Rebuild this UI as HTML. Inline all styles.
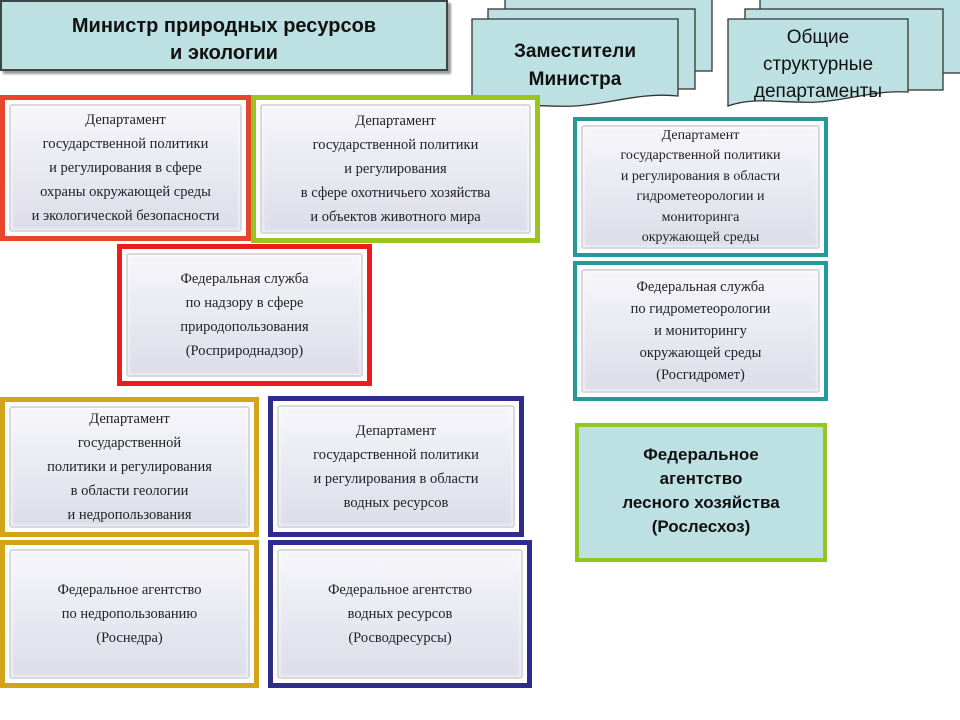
<!DOCTYPE html>
<html><head><meta charset="utf-8"><style>
body{margin:0;width:960px;height:720px;background:#fff;position:relative;overflow:hidden;font-family:"Liberation Serif",serif}
.b{position:absolute;box-sizing:border-box;background:#fff}
.b .in{position:absolute;left:4px;top:4px;right:4px;bottom:4px;border:2px solid #d8d8df;border-radius:3px;background:linear-gradient(180deg,#f6f6fa 0%,#e6e7f0 60%,#dcdde8 100%);display:flex;align-items:center;justify-content:center;text-align:center;font-size:14.5px;line-height:24px;color:#222;box-shadow:inset 0 0 4px #fff}
.s{font-family:"Liberation Sans",sans-serif;position:absolute;text-align:center;color:#111}
</style></head><body>
<div style="position:absolute;left:0;top:0;width:448px;height:71px;box-sizing:border-box;background:#bde0e3;border:2px solid #3b4747;box-shadow:3px 3px 2px #999"></div>
<div class="s" style="left:0;top:13px;width:448px;font-size:20px;font-weight:bold;line-height:27px">Министр природных ресурсов<br>и экологии</div>

<svg style="position:absolute;left:0;top:0" width="960" height="120">
<g fill="#bde0e3" stroke="#333" stroke-width="1.3">
<rect x="505" y="-2" width="207" height="73"/>
<rect x="488" y="9" width="207" height="80"/>
<path d="M472 19 H678 V96 C640 92 610 104 575 106 C540 108 505 100 472 110 Z"/>
<rect x="760" y="-2" width="202" height="75"/>
<rect x="745" y="9" width="198" height="81"/>
<path d="M728 19 H908 V92 C875 90 850 100 818 102 C785 104 755 96 728 106 Z"/>
</g>
</svg>
<div class="s" style="left:472px;top:38px;width:206px;font-size:19px;font-weight:bold;line-height:28px">Заместители<br>Министра</div>
<div class="s" style="left:728px;top:24px;width:180px;font-size:19px;line-height:27px">Общие<br>структурные<br>департаменты</div>

<div class="b" style="left:0;top:95px;width:251px;height:146px;border:5px solid #e8452f"><div class="in">Департамент<br>государственной политики<br>и регулирования в сфере<br>охраны окружающей среды<br>и экологической безопасности</div></div>
<div class="b" style="left:251px;top:95px;width:289px;height:148px;border:5px solid #9ac41e"><div class="in">Департамент<br>государственной политики<br>и регулирования<br>в сфере охотничьего хозяйства<br>и объектов животного мира</div></div>
<div class="b" style="left:117px;top:244px;width:255px;height:142px;border:5px solid #ee1c1c"><div class="in">Федеральная служба<br>по надзору в сфере<br>природопользования<br>(Росприроднадзор)</div></div>
<div class="b" style="left:573px;top:117px;width:255px;height:140px;border:4px solid #24999a"><div class="in" style="line-height:20.5px;font-size:14px">Департамент<br>государственной политики<br>и регулирования в области<br>гидрометеорологии и<br>мониторинга<br>окружающей среды</div></div>
<div class="b" style="left:573px;top:261px;width:255px;height:140px;border:4px solid #24999a"><div class="in" style="line-height:22px">Федеральная служба<br>по гидрометеорологии<br>и мониторингу<br>окружающей среды<br>(Росгидромет)</div></div>
<div class="b" style="left:0;top:397px;width:259px;height:140px;border:5px solid #d3a417"><div class="in">Департамент<br>государственной<br>политики и регулирования<br>в области геологии<br>и недропользования</div></div>
<div class="b" style="left:268px;top:396px;width:256px;height:141px;border:5px solid #2e2d8e"><div class="in">Департамент<br>государственной политики<br>и регулирования в области<br>водных ресурсов</div></div>
<div class="b" style="left:0;top:540px;width:259px;height:148px;border:5px solid #d3a417"><div class="in">Федеральное агентство<br>по недропользованию<br>(Роснедра)</div></div>
<div class="b" style="left:268px;top:540px;width:264px;height:148px;border:5px solid #2e2d8e"><div class="in">Федеральное агентство<br>водных ресурсов<br>(Росводресурсы)</div></div>

<div style="position:absolute;left:575px;top:423px;width:252px;height:139px;box-sizing:border-box;background:#bde0e3;border:4px solid #93c623"></div>
<div class="s" style="left:575px;top:443px;width:252px;font-size:17px;font-weight:bold;line-height:24px">Федеральное<br>агентство<br>лесного хозяйства<br>(Рослесхоз)</div>
</body></html>
